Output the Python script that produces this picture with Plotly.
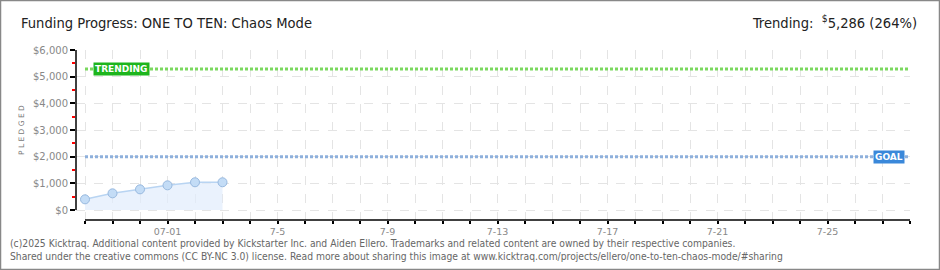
import plotly.graph_objects as go

# ---- data ----
dates = ["2025-06-28", "2025-06-29", "2025-06-30", "2025-07-01", "2025-07-02", "2025-07-03"]
pledged = [400, 625, 775, 925, 1040, 1040]
goal = 2000
trending = 5286
trending_pct = 264
axis_days = ["2025-06-%02d" % d for d in range(28, 31)] + ["2025-07-%02d" % d for d in range(1, 29)]
axis_labels = {"2025-07-01": "07-01", "2025-07-05": "7-5", "2025-07-09": "7-9", "2025-07-13": "7-13",
               "2025-07-17": "7-17", "2025-07-21": "7-21", "2025-07-25": "7-25"}
y_ticks = [0, 1000, 2000, 3000, 4000, 5000, 6000]
y_labels = ["$0", "$1,000", "$2,000", "$3,000", "$4,000", "$5,000", "$6,000"]

W, H = 940, 270
L, R, T, B = 76, 30, 50, 50
pw, ph = W - L - R, H - T - B

def px(x):
    return (x - L) / pw

def py(y):
    return (H - B - y) / ph

FONT = "DejaVu Sans"
COND = "DejaVu Sans Condensed, Liberation Sans Narrow, DejaVu Sans"

fig = go.Figure()

fig.add_trace(go.Scatter(
    x=dates, y=pledged, mode="lines+markers",
    line=dict(color="#b8d4f2", width=1.5),
    fill="tozeroy", fillcolor="rgba(225,237,252,0.7)",
    marker=dict(size=9, color="#c3dcf6", line=dict(color="#98b9df", width=1)),
    hoverinfo="skip", showlegend=False,
))

# Trending and goal lines
fig.add_trace(go.Scatter(
    x=[axis_days[0], axis_days[-1]], y=[trending, trending], mode="lines",
    line=dict(color="#7ad85e", width=3, dash="3px,2px"), showlegend=False, hoverinfo="skip"))
fig.add_trace(go.Scatter(
    x=[axis_days[0], axis_days[-1]], y=[goal, goal], mode="lines",
    line=dict(color="#8eb0dc", width=3, dash="3px,2px"), showlegend=False, hoverinfo="skip"))

fig.add_annotation(x=px(93), xref="paper", y=trending, yref="y", xanchor="left", yanchor="middle",
                   text="<b>TRENDING</b>", showarrow=False, bgcolor="#1db51d", borderpad=1,
                   font=dict(family=FONT, size=9, color="white"))
fig.add_annotation(x=px(905), xref="paper", y=goal, yref="y", xanchor="right", yanchor="middle",
                   text="<b>GOAL</b>", showarrow=False, bgcolor="#3a88da", borderpad=1,
                   font=dict(family=FONT, size=9, color="white"))

# axis lines
fig.add_shape(type="line", xref="paper", yref="y", x0=0, x1=0, y0=0, y1=6000,
              line=dict(color="black", width=1.5))
fig.add_shape(type="line", xref="x", yref="paper", x0=axis_days[0], x1=axis_days[-1], y0=0, y1=0,
              line=dict(color="black", width=1.5))

# border
fig.add_shape(type="rect", xref="paper", yref="paper", x0=px(0.5), x1=px(W - 0.5), y0=py(0.5), y1=py(H - 0.5),
              line=dict(color="#888888", width=1.5))

# Title and trending text
fig.add_annotation(x=px(19), xref="paper", y=py(23), yref="paper", xanchor="left", yanchor="middle",
                   text="Funding Progress: ONE TO TEN: Chaos Mode", showarrow=False,
                   font=dict(family=COND, size=14.6, color="#222222"))
fig.add_annotation(x=px(919), xref="paper", y=py(22), yref="paper", xanchor="right", yanchor="middle",
                   text="Trending:  <sup>$</sup>%s (%d%%)" % (f"{trending:,}", trending_pct), showarrow=False,
                   font=dict(family=COND, size=14.6, color="#222222"))
fig.add_annotation(x=px(21), xref="paper", y=py(130), yref="paper", xanchor="center", yanchor="middle",
                   text="P L E D G E D", textangle=-90, showarrow=False,
                   font=dict(family=FONT, size=7.5, color="#777777"))

# footer
fig.add_annotation(x=px(8), xref="paper", y=py(243), yref="paper", xanchor="left", yanchor="middle",
                   text="(c)2025 Kicktraq. Additional content provided by Kickstarter Inc. and Aiden Ellero. Trademarks and related content are owned by their respective companies.",
                   showarrow=False, font=dict(family=COND, size=10.25, color="#666666"))
fig.add_annotation(x=px(8), xref="paper", y=py(256), yref="paper", xanchor="left", yanchor="middle",
                   text="Shared under the creative commons (CC BY-NC 3.0) license. Read more about sharing this image at www.kicktraq.com/projects/ellero/one-to-ten-chaos-mode/#sharing",
                   showarrow=False, font=dict(family=COND, size=10.25, color="#666666"))

fig.update_xaxes(
    type="date", range=["2025-06-27 16:08", "2025-07-28 00:00"],
    tickvals=axis_days, ticktext=[axis_labels.get(d, "") for d in axis_days],
    ticks="outside", ticklen=3, tickcolor="black", tickwidth=1.5,
    showgrid=True, gridcolor="#e4e4e4", griddash="dash", gridwidth=1,
    showline=False, zeroline=False,
    tickfont=dict(family=FONT, size=9.5, color="#888888"),
)
fig.update_yaxes(
    range=[-375, 6000], tickvals=y_ticks, ticktext=y_labels,
    ticks="outside", ticklen=5, tickcolor="black", tickwidth=1.5,
    showgrid=True, gridcolor="#e4e4e4", griddash="dash", gridwidth=1,
    showline=False, zeroline=False,
    tickfont=dict(family=FONT, size=10, color="#888888"),
    minor=dict(dtick=500, tick0=0, ticks="outside", ticklen=3, tickcolor="red", tickwidth=1.5, showgrid=False),
)

fig.update_layout(
    width=W, height=H, margin=dict(l=L, r=R, t=T, b=B),
    paper_bgcolor="white", plot_bgcolor="white", showlegend=False,
)

fig.write_html("out.html")
